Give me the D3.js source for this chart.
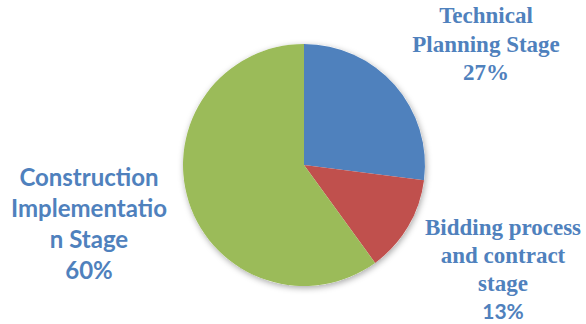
<!DOCTYPE html>
<html>
<head>
<meta charset="utf-8">
<script src="https://cdn.jsdelivr.net/npm/d3@7"></script>
<style>
  body { margin: 0; background: #fff; }
  svg { display: block; }
</style>
</head>
<body>
<div id="chart"></div>
<script>
// slice data, clockwise from 12 o'clock
var stages = ["Technical Planning Stage", "Bidding process and contract stage", "Construction Implementation Stage"];
var shares = [27, 13, 60];
var colors = ["#4f81bd", "#c0504d", "#9bbb59"];
// label text as it wraps in the picture (last line is the percent)
var labelLines = [
  ["Technical", "Planning Stage", "27%"],
  ["Bidding process", "and contract", "stage", "13%"],
  ["Construction", "Implementatio", "n Stage", "60%"]
];

var width = 586, height = 324;
var cx = 304, cy = 165, radius = 121;

var svg = d3.select("#chart")
  .append("svg")
  .attr("width", width)
  .attr("height", height);

//==================
// labels, one text element per line
var labelSpots = [
  { x: 486, y: 23, step: 28.5, font: ["Times New Roman", "Times New Roman", "Times New Roman"], size: [23, 23, 23] },
  { x: 503, y: 235, step: 28, font: ["Times New Roman", "Times New Roman", "Times New Roman", "Lato"], size: [23, 23, 23, 21] },
  { x: 89, y: 186, step: 31, font: ["Lato", "Lato", "Lato", "Lato"], size: [24, 24, 24, 24] }
];

labelLines.forEach(function(lines, i) {
  var spot = labelSpots[i];
  lines.forEach(function(line, j) {
    svg.append("text")
      .attr("x", spot.x)
      .attr("y", spot.y + j * spot.step)
      .attr("text-anchor", "middle")
      .attr("fill", "#4f81bd")
      .attr("font-weight", "bold")
      .attr("font-family", spot.font[j])
      .attr("font-size", spot.size[j])
      .text(line);
  });
});

var defs = svg.append("defs");
var shadow = defs.append("filter")
  .attr("id", "shadow")
  .attr("x", "-20%").attr("y", "-20%")
  .attr("width", "140%").attr("height", "140%");
shadow.append("feDropShadow")
  .attr("dx", 1).attr("dy", 2)
  .attr("stdDeviation", 3)
  .attr("flood-color", "#000")
  .attr("flood-opacity", 0.35);

var pie = d3.pie().sort(null).value(function(d) { return d; });
var arc = d3.arc().innerRadius(0).outerRadius(radius);

var g = svg.append("g")
  .attr("transform", "translate(" + cx + "," + cy + ")");

g.append("circle")
  .attr("r", radius)
  .attr("fill", "#fff")
  .attr("filter", "url(#shadow)");

g.selectAll("path")
  .data(pie(shares))
  .enter()
  .append("path")
  .attr("d", arc)
  .attr("fill", function(d, i) { return colors[i]; });
</script>
</body>
</html>
